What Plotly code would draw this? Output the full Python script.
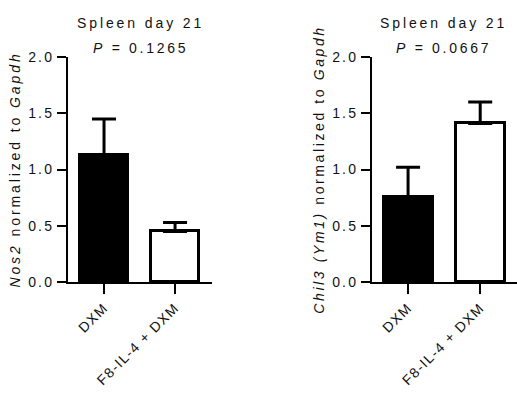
import plotly.graph_objects as go

# ---- data ----
groups = ["DXM", "F8-IL-4 + DXM"]
nos2_mean = [1.13, 0.45]
nos2_err = [0.32, 0.08]
chil3_mean = [0.76, 1.41]
chil3_err = [0.26, 0.19]
p_left = "0.1265"
p_right = "0.0667"
ytick_vals = [0.0, 0.5, 1.0, 1.5, 2.0]
ytick_labels = ["0.0", "0.5", "1.0", "1.5", "2.0"]


def ls(s, px=3.0):
    return '<span style="letter-spacing:%.1fpx">%s</span>' % (px, s)


FAM = "Liberation Sans, Arial, sans-serif"
FONT = dict(family=FAM, size=14, color="#111")
xpos = [0, 1]
bar_colors = ["black", "white"]

fig = go.Figure()

for (mean, err, xa, ya) in [(nos2_mean, nos2_err, "x", "y"), (chil3_mean, chil3_err, "x2", "y2")]:
    fig.add_trace(go.Bar(
        x=xpos, y=mean, width=0.68,
        marker=dict(color=bar_colors, line=dict(color="black", width=3)),
        error_y=dict(type="data", array=err, arrayminus=[0, 0], symmetric=False,
                     color="black", thickness=3, width=12),
        xaxis=xa, yaxis=ya, showlegend=False,
    ))

ydom = [120 / 402, 345 / 402]
axis_common = dict(showline=True, linecolor="black", linewidth=2, ticks="outside",
                   tickcolor="black", tickwidth=2, showgrid=False, zeroline=False,
                   tickfont=FONT, automargin=False)

ytitle_left = ls("<i>Nos2</i> normalized to <i>Gapdh</i>", 2.9)
ytitle_right = ls("<i>Chil3 (Ym1)</i> normalized to <i>Gapdh</i>", 2.6)

fig.update_layout(
    template="none",
    width=517, height=402,
    margin=dict(l=0, r=0, t=0, b=0),
    plot_bgcolor="white", paper_bgcolor="white",
    font=FONT,
    bargap=0,
    xaxis=dict(domain=[68 / 517, 212 / 517], range=[-0.507, 1.52],
               tickvals=xpos, ticktext=[ls(g, 1.3) for g in groups],
               tickangle=-45, ticklen=10, anchor="y", **axis_common),
    yaxis=dict(domain=ydom, range=[0, 2], tickvals=ytick_vals,
               ticktext=[ls(t, 2.2) for t in ytick_labels], ticklen=9, anchor="x",
               title=dict(text=ytitle_left, font=FONT, standoff=4),
               **axis_common),
    xaxis2=dict(domain=[372 / 517, 1.0], range=[-0.5, 1.51],
                tickvals=xpos, ticktext=[ls(g, 1.3) for g in groups],
                tickangle=-45, ticklen=10, anchor="y2", **axis_common),
    yaxis2=dict(domain=ydom, range=[0, 2], tickvals=ytick_vals,
                ticktext=[ls(t, 2.2) for t in ytick_labels], ticklen=9, anchor="x2",
                title=dict(text=ytitle_right, font=FONT, standoff=4),
                **axis_common),
)

for cx, p in [(140, p_left), (443, p_right)]:
    fig.add_annotation(x=cx / 517, y=1 - 23 / 402, xref="paper", yref="paper",
                       text=ls("Spleen day 21", 2.9), showarrow=False, font=FONT,
                       xanchor="center", yanchor="middle")
    fig.add_annotation(x=cx / 517, y=1 - 48 / 402, xref="paper", yref="paper",
                       text=ls("<i>P</i> = " + p, 2.7), showarrow=False, font=FONT,
                       xanchor="center", yanchor="middle")

fig.write_html("out.html")
